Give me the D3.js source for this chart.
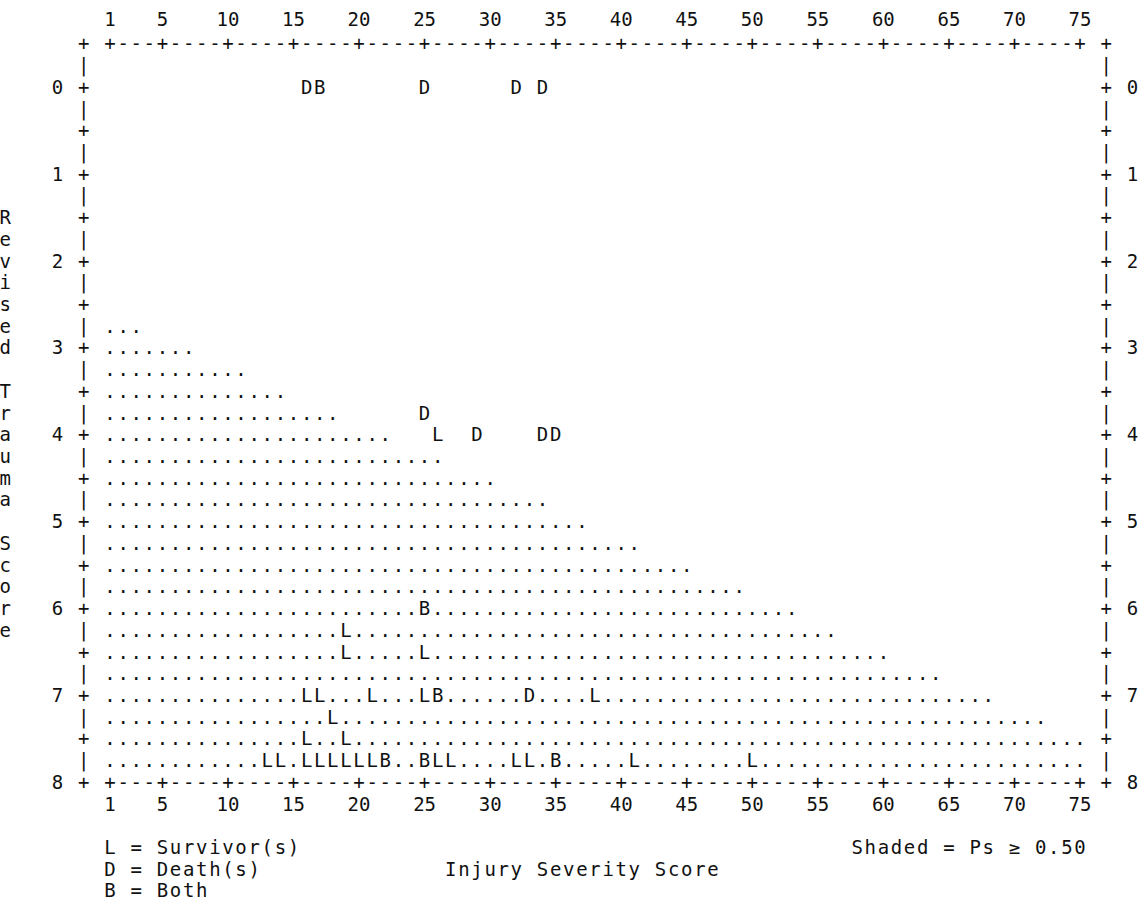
<!DOCTYPE html>
<html>
<head>
<meta charset="utf-8">
<title>Revised Trauma Score vs Injury Severity Score</title>
<style>
  body { margin: 0; background: #fff; }
  svg text { font-family: "DejaVu Sans Mono", monospace; font-size: 19px; fill: #111; }
</style>
</head>
<body>
<script src="https://cdn.jsdelivr.net/npm/d3@7"></script>
<script>
// tick labels
var issTicks = [1, 5, 10, 15, 20, 25, 30, 35, 40, 45, 50, 55, 60, 65, 70, 75];
var rtsTicks = [0, 1, 2, 3, 4, 5, 6, 7, 8];

// shaded area (Ps >= 0.50): for each RTS row, the last ISS column that is shaded
var shadeRts  = [2.75, 3, 3.25, 3.5, 3.75, 4, 4.25, 4.5, 4.75, 5, 5.25, 5.5, 5.75, 6, 6.25, 6.5, 6.75, 7, 7.25, 7.5, 7.75];
var shadeEnds = [3, 7, 11, 14, 18, 22, 26, 30, 34, 37, 41, 45, 49, 53, 56, 60, 64, 68, 72, 75, 75];

// points [ISS, RTS]
var survivors = [[26, 4], [19, 6.25], [19, 6.5], [25, 6.5], [16, 7], [17, 7], [21, 7], [25, 7], [38, 7],
  [18, 7.25], [16, 7.5], [19, 7.5], [13, 7.75], [14, 7.75], [16, 7.75], [17, 7.75], [18, 7.75],
  [19, 7.75], [20, 7.75], [21, 7.75], [26, 7.75], [27, 7.75], [32, 7.75], [33, 7.75], [41, 7.75], [50, 7.75]];
var deaths = [[16, 0], [25, 0], [32, 0], [34, 0], [25, 3.75], [29, 4], [34, 4], [35, 4], [33, 7]];
var both = [[17, 0], [25, 6], [26, 7], [22, 7.75], [25, 7.75], [35, 7.75]];

var legendLines = ["L = Survivor(s)", "D = Death(s)", "B = Both"];
var xTitle = "Injury Severity Score";
var yTitle = "Revised Trauma Score";
var shadeNote = "Shaded = Ps \u2265 0.50";

var width = 1148, height = 903;

var svg = d3.select("body").append("svg")
  .attr("width", width)
  .attr("height", height);

// one character cell per ISS unit, one row per quarter RTS unit
var x = d3.scaleLinear().domain([1, 75]).range([110, 1080]);
var y = d3.scaleLinear().domain([0, 8]).range([87, 782]);

function put(g, col, rts, ch) {
  g.append("text")
    .attr("x", x(col))
    .attr("y", y(rts))
    .attr("dy", "0.36em")
    .attr("text-anchor", "middle")
    .text(ch);
}

// write a string one char per column, starting at col
function putString(g, col, rts, str) {
  str.split("").forEach(function(ch, i) {
    if (ch !== " ") put(g, col + i, rts, ch);
  });
}

var frame = svg.append("g").attr("class", "frame");

// left / right borders
d3.range(-0.5, 8.01, 0.25).forEach(function(r) {
  var ch = (Math.abs(r * 2 - Math.round(r * 2)) < 1e-6) ? "+" : "|";
  put(frame, -1, r, ch);
  put(frame, 77, r, ch);
});

// top and bottom axis lines
[-0.5, 8].forEach(function(r) {
  d3.range(1, 76).forEach(function(c) {
    put(frame, c, r, issTicks.indexOf(c) >= 0 ? "+" : "-");
  });
});

// tick labels
issTicks.forEach(function(t) {
  put(frame, t, -0.78, String(t));
  put(frame, t, 8.25, String(t));
});
rtsTicks.forEach(function(t) {
  put(frame, -3, t, String(t));
  put(frame, 79, t, String(t));
});

// which cells carry a symbol
var marks = {};
survivors.forEach(function(d) { marks[d[0] + "_" + d[1]] = "L"; });
deaths.forEach(function(d) { marks[d[0] + "_" + d[1]] = "D"; });
both.forEach(function(d) { marks[d[0] + "_" + d[1]] = "B"; });

// shaded dots
var shade = svg.append("g").attr("class", "shade");
shadeRts.forEach(function(r, i) {
  d3.range(1, shadeEnds[i] + 1).forEach(function(c) {
    if (!marks[c + "_" + r]) put(shade, c, r, ".");
  });
});

// symbols
var pts = svg.append("g").attr("class", "points");
[[survivors, "L"], [deaths, "D"], [both, "B"]].forEach(function(s) {
  s[0].forEach(function(d) { put(pts, d[0], d[1], s[1]); });
});

// legend and titles
var notes = svg.append("g").attr("class", "notes");
legendLines.forEach(function(l, i) {
  putString(notes, 1, 8.75 + i * 0.25, l);
});
putString(notes, 27, 9, xTitle);
putString(notes, 76 - shadeNote.length, 8.75, shadeNote);

// vertical y title, one character per row, centred on the frame
yTitle.split("").forEach(function(ch, i) {
  if (ch !== " ") put(notes, -7, 1.5 + i * 0.25, ch);
});
</script>
</body>
</html>
